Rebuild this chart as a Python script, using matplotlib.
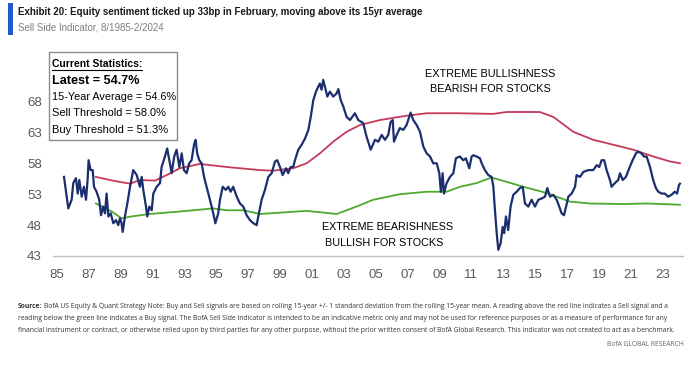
import matplotlib.pyplot as plt
from matplotlib.patches import Rectangle
from matplotlib.lines import Line2D

# BofA Sell Side Indicator, monthly-ish readings (year, %)
ssi_year = [1985.46, 1985.73, 1985.94, 1986.04, 1986.21, 1986.32, 1986.42, 1986.57, 1986.71, 1986.84,
            1986.94, 1987.0, 1987.13, 1987.26, 1987.34, 1987.5, 1987.67, 1987.78, 1987.92, 1988.03,
            1988.13, 1988.24, 1988.39, 1988.55, 1988.72, 1988.86, 1988.97, 1989.07, 1989.14, 1989.28,
            1989.43, 1989.6, 1989.8, 1990.02, 1990.22, 1990.33, 1990.43, 1990.6, 1990.68, 1990.81,
            1990.96, 1991.06, 1991.27, 1991.48, 1991.58, 1991.79, 1991.93, 1992.1, 1992.21, 1992.37,
            1992.52, 1992.69, 1992.84, 1992.98, 1993.15, 1993.31, 1993.46, 1993.61, 1993.71, 1993.81,
            1993.94, 1994.09, 1994.24, 1994.4, 1994.61, 1994.82, 1994.95, 1995.13, 1995.24, 1995.41,
            1995.61, 1995.76, 1995.91, 1996.07, 1996.29, 1996.49, 1996.7, 1996.91, 1997.12, 1997.33,
            1997.54, 1997.64, 1997.85, 1998.06, 1998.27, 1998.48, 1998.69, 1998.83, 1999.0, 1999.17,
            1999.38, 1999.52, 1999.67, 1999.83, 1999.94, 2000.15, 2000.36, 2000.57, 2000.78, 2000.93,
            2001.09, 2001.26, 2001.4, 2001.5, 2001.61, 2001.71, 2001.82, 2001.97, 2002.13, 2002.34,
            2002.55, 2002.66, 2002.81, 2002.97, 2003.18, 2003.39, 2003.7, 2003.91, 2004.22, 2004.43,
            2004.69, 2004.96, 2005.17, 2005.38, 2005.58, 2005.79, 2005.94, 2006.07, 2006.15, 2006.32,
            2006.52, 2006.73, 2006.94, 2007.04, 2007.19, 2007.36, 2007.57, 2007.78, 2007.99, 2008.2,
            2008.41, 2008.61, 2008.83, 2008.99, 2009.09, 2009.2, 2009.28, 2009.45, 2009.66, 2009.87,
            2010.03, 2010.18, 2010.28, 2010.49, 2010.66, 2010.87, 2011.02, 2011.12, 2011.33, 2011.54,
            2011.65, 2011.85, 2012.06, 2012.27, 2012.38, 2012.48, 2012.59, 2012.69, 2012.84, 2012.96,
            2013.06, 2013.17, 2013.31, 2013.46, 2013.63, 2013.84, 2014.05, 2014.22, 2014.36, 2014.57,
            2014.78, 2014.99, 2015.2, 2015.41, 2015.62, 2015.76, 2015.93, 2016.14, 2016.35, 2016.51,
            2016.66, 2016.81, 2016.94, 2017.08, 2017.29, 2017.5, 2017.6, 2017.81, 2018.02, 2018.33,
            2018.64, 2018.86, 2019.02, 2019.17, 2019.33, 2019.48, 2019.69, 2019.79, 2020.0, 2020.21,
            2020.32, 2020.49, 2020.69, 2020.9, 2021.11, 2021.32, 2021.46, 2021.67, 2021.82, 2021.99,
            2022.2, 2022.4, 2022.57, 2022.72, 2022.93, 2023.13, 2023.34, 2023.55, 2023.75, 2023.9,
            2024.02, 2024.08]
ssi_value = [55.8, 50.7, 52.1, 54.8, 55.6, 53.1, 55.3, 52.6, 54.2, 52.1,
             55.3, 58.5, 56.9, 56.9, 54.2, 53.4, 52.1, 49.6, 51.0, 49.9,
             53.1, 49.4, 49.9, 48.3, 48.8, 48.0, 49.1, 48.3, 46.9, 49.4,
             51.5, 54.2, 56.9, 56.1, 54.2, 55.8, 53.7, 51.0, 49.4, 51.0,
             50.4, 53.1, 54.2, 54.8, 57.4, 59.1, 60.4, 58.0, 56.4, 59.1,
             60.2, 57.4, 59.6, 56.9, 56.4, 58.0, 58.5, 61.0, 61.8, 59.6,
             58.5, 58.0, 55.8, 54.2, 52.1, 49.9, 48.3, 49.9, 52.1, 54.2,
             53.7, 54.2, 53.4, 54.2, 52.6, 51.5, 51.0, 49.6, 48.8, 48.3,
             48.0, 49.4, 52.1, 53.7, 55.8, 56.4, 58.3, 58.5, 57.4, 56.1,
             57.2, 56.4, 57.4, 57.4, 58.5, 60.2, 61.0, 62.0, 63.4, 65.5,
             68.2, 69.6, 70.4, 70.9, 69.9, 71.5, 70.4, 68.8, 69.6, 68.8,
             69.3, 70.0, 68.2, 67.2, 65.5, 65.0, 66.1, 65.0, 64.5, 62.3,
             60.2, 61.8, 61.5, 62.6, 61.8, 62.6, 64.7, 65.0, 61.5, 62.6,
             63.7, 63.4, 64.2, 65.0, 66.2, 65.0, 64.2, 63.1, 60.7, 59.6,
             59.1, 58.0, 58.0, 56.4, 53.4, 56.4, 53.1, 54.8, 55.8, 56.4,
             58.8, 59.0, 59.1, 58.5, 58.8, 57.2, 59.1, 59.3, 59.1, 58.8,
             58.0, 56.9, 56.1, 55.8, 54.2, 50.4, 46.7, 44.0, 45.1, 47.7,
             46.7, 49.4, 47.2, 51.0, 52.9, 53.4, 54.0, 54.2, 51.5, 51.0,
             52.1, 51.0, 52.1, 52.3, 52.6, 54.0, 52.6, 52.9, 52.1, 51.0,
             49.9, 49.6, 51.0, 52.6, 53.1, 54.2, 56.1, 55.8, 56.6, 56.9,
             56.9, 57.7, 57.4, 58.5, 58.5, 56.9, 55.3, 54.2, 54.8, 55.3,
             56.4, 55.3, 55.8, 57.2, 58.5, 59.6, 59.9, 59.6, 59.1, 59.1,
             57.4, 55.3, 54.0, 53.4, 53.1, 53.1, 52.6, 52.9, 53.4, 53.1,
             54.5, 54.7]

# rolling 15yr mean + 1 std (sell) and - 1 std (buy)
sell_year = [1987.46, 1988.5, 1989.6, 1990.22, 1991.16, 1991.9, 1992.73, 1993.98, 1995.66, 1997.75,
             1998.58, 1999.83, 2000.67, 2001.5, 2002.34, 2003.18, 2004.02, 2005.27, 2006.94, 2008.2,
             2010.18, 2012.37, 2013.21, 2015.3, 2016.14, 2017.39, 2018.64, 2019.9, 2021.15, 2022.4,
             2023.45, 2024.08]
sell_value = [55.8, 55.2, 54.7, 55.3, 55.2, 56.1, 57.2, 57.9, 57.4, 56.9,
              56.8, 57.2, 58.0, 59.6, 61.5, 63.1, 64.2, 65.0, 65.7, 66.1,
              66.1, 66.0, 66.3, 66.3, 65.5, 63.1, 61.8, 61.0, 60.2, 59.1,
              58.3, 58.0]
buy_year = [1987.46, 1988.45, 1989.07, 1989.7, 1990.85, 1992.73, 1994.82, 1995.66, 1996.7, 1997.75,
            2000.67, 2002.55, 2003.8, 2004.85, 2006.52, 2008.2, 2009.45, 2010.28, 2011.33, 2012.27,
            2013.21, 2014.26, 2015.72, 2017.18, 2018.43, 2020.52, 2021.99, 2024.08]
buy_value = [51.5, 50.2, 49.1, 49.4, 49.8, 50.2, 50.7, 50.4, 50.4, 49.8,
             50.3, 49.8, 51.0, 52.1, 53.0, 53.4, 53.4, 54.2, 54.8, 55.7,
             55.0, 54.2, 53.2, 51.8, 51.5, 51.4, 51.5, 51.3]

year_ticks = list(range(1985, 2024, 2))
year_labels = [f"{y % 100:02d}" for y in year_ticks]
value_ticks = [43, 48, 53, 58, 63, 68]

stat_header = "Current Statistics:"
stat_latest = "Latest = 54.7%"
stat_rest = ["15-Year Average = 54.6%", "Sell Threshold = 58.0%", "Buy Threshold = 51.3%"]

title = "Exhibit 20: Equity sentiment ticked up 33bp in February, moving above its 15yr average"
subtitle = "Sell Side Indicator, 8/1985-2/2024"
footer_lines = [
    "BofA US Equity & Quant Strategy Note: Buy and Sell signals are based on rolling 15-year +/- 1 standard deviation from the rolling 15-year mean. A reading above the red line indicates a Sell signal and a",
    "reading below the green line indicates a Buy signal. The BofA Sell Side Indicator is intended to be an indicative metric only and may not be used for reference purposes or as a measure of performance for any",
    "financial instrument or contract, or otherwise relied upon by third parties for any other purpose, without the prior written consent of BofA Global Research. This indicator was not created to act as a benchmark.",
]

NARROW = ["DejaVu Sans Condensed", "Liberation Sans Narrow", "Liberation Sans", "DejaVu Sans"]
W, H = 700, 373
fig = plt.figure(figsize=(7, 3.73), dpi=100)
renderer = fig.canvas.get_renderer()


def fx(px):
    return px / W


def fy(py):
    return 1 - py / H


def fit(t, width_px):
    # scale a text's font size so it spans width_px pixels
    w = t.get_window_extent(renderer).width
    t.set_fontsize(t.get_fontsize() * width_px / w)
    return t


ax = fig.add_axes([fx(53), fy(256), fx(683) - fx(53), fy(70.6) - fy(256)])
ax.plot(sell_year, sell_value, color="#C43A5A", lw=1.3, zorder=2)
ax.plot(buy_year, buy_value, color="#4DAA2E", lw=1.3, zorder=2)
ax.plot(ssi_year, ssi_value, color="#1B2E6E", lw=1.6, zorder=3)
ax.set_xlim(1984.77, 2024.27)
ax.set_ylim(43, 73)
ax.set_xticks(year_ticks)
ax.set_xticklabels(year_labels)
ax.set_yticks(value_ticks)
for s in ["top", "right", "left"]:
    ax.spines[s].set_visible(False)
ax.spines["bottom"].set_color("#BFBFBF")
ax.spines["bottom"].set_linewidth(1.0)
ax.tick_params(length=0, colors="#595959", labelsize=9.5)
ax.tick_params(axis="x", pad=9)
ax.tick_params(axis="y", pad=8)
for lab in ax.get_xticklabels() + ax.get_yticklabels():
    lab.set_family(NARROW)

# annotations
t1 = fig.text(fx(490), fy(74), "EXTREME BULLISHNESS", ha="center", va="center", fontsize=9, family=NARROW)
t2 = fig.text(fx(490), fy(89), "BEARISH FOR STOCKS", ha="center", va="center", fontsize=9, family=NARROW)
t3 = fig.text(fx(387.5), fy(227), "EXTREME BEARISHNESS", ha="center", va="center", fontsize=9, family=NARROW)
t4 = fig.text(fx(384), fy(243), "BULLISH FOR STOCKS", ha="center", va="center", fontsize=9, family=NARROW)
fit(t1, 130)
fit(t3, 132)
for t in (t2, t4):
    t.set_fontsize(t1.get_fontsize())

# statistics box
fig.patches.append(Rectangle((fx(49), fy(140)), fx(177) - fx(49), fy(52.5) - fy(140),
                             transform=fig.transFigure, facecolor="white", edgecolor="#8C8C8C",
                             lw=1.0, zorder=5))
hdr = fig.text(fx(52), fy(64), stat_header, fontsize=8.5, fontweight="bold", family=NARROW,
               va="center", zorder=6)
fit(hdr, 90)
lat = fig.text(fx(52), fy(80.5), stat_latest, fontsize=10, fontweight="bold", family=NARROW,
               va="center", zorder=6)
fit(lat, 88)
rest_widths = [123, 113, 115]
for i, line in enumerate(stat_rest):
    t = fig.text(fx(52.5), fy(97 + 16.5 * i), line, fontsize=8.5, family=NARROW, va="center", zorder=6)
    fit(t, rest_widths[i])

# title block
fig.patches.append(Rectangle((fx(8), fy(35)), fx(5), fy(3) - fy(35), transform=fig.transFigure,
                             facecolor="#1F5BC8", edgecolor="none"))
tt = fig.text(fx(18), fy(12), title, fontsize=8.2, fontweight="bold", family=NARROW, va="center",
              color="#1A1A1A")
fit(tt, 408)
st = fig.text(fx(18), fy(27), subtitle, fontsize=7.6, family=NARROW, va="center", color="#7F7F7F")
fit(st, 147)

# footer
src = fig.text(fx(18), fy(306), "Source:", fontsize=4.6, fontweight="bold", family="Open Sans",
               va="center", color="#333333")
f2 = fig.text(fx(18), fy(318.5), footer_lines[1], fontsize=4.6, family="Open Sans", va="center",
              color="#333333")
fit(f2, 655)
fs = f2.get_fontsize()
src.set_fontsize(fs)
src_end = src.get_window_extent(renderer).x1
fig.text((src_end + 2) / W, fy(306), footer_lines[0], fontsize=fs, family="Open Sans", va="center",
         color="#333333")
fig.text(fx(18), fy(331), footer_lines[2], fontsize=fs, family="Open Sans", va="center",
         color="#333333")
fig.text(fx(684), fy(344), "BofA GLOBAL RESEARCH", fontsize=fs, family="Open Sans",
         va="center", ha="right", color="#666666")

# underline the header of the statistics box
bb = hdr.get_window_extent(renderer)
fig.add_artist(Line2D([bb.x0 / W, bb.x1 / W], [(bb.y0 - 0.5) / H, (bb.y0 - 0.5) / H],
                      transform=fig.transFigure, color="black", lw=0.8, zorder=6))

fig.savefig("out.png", dpi=100)
